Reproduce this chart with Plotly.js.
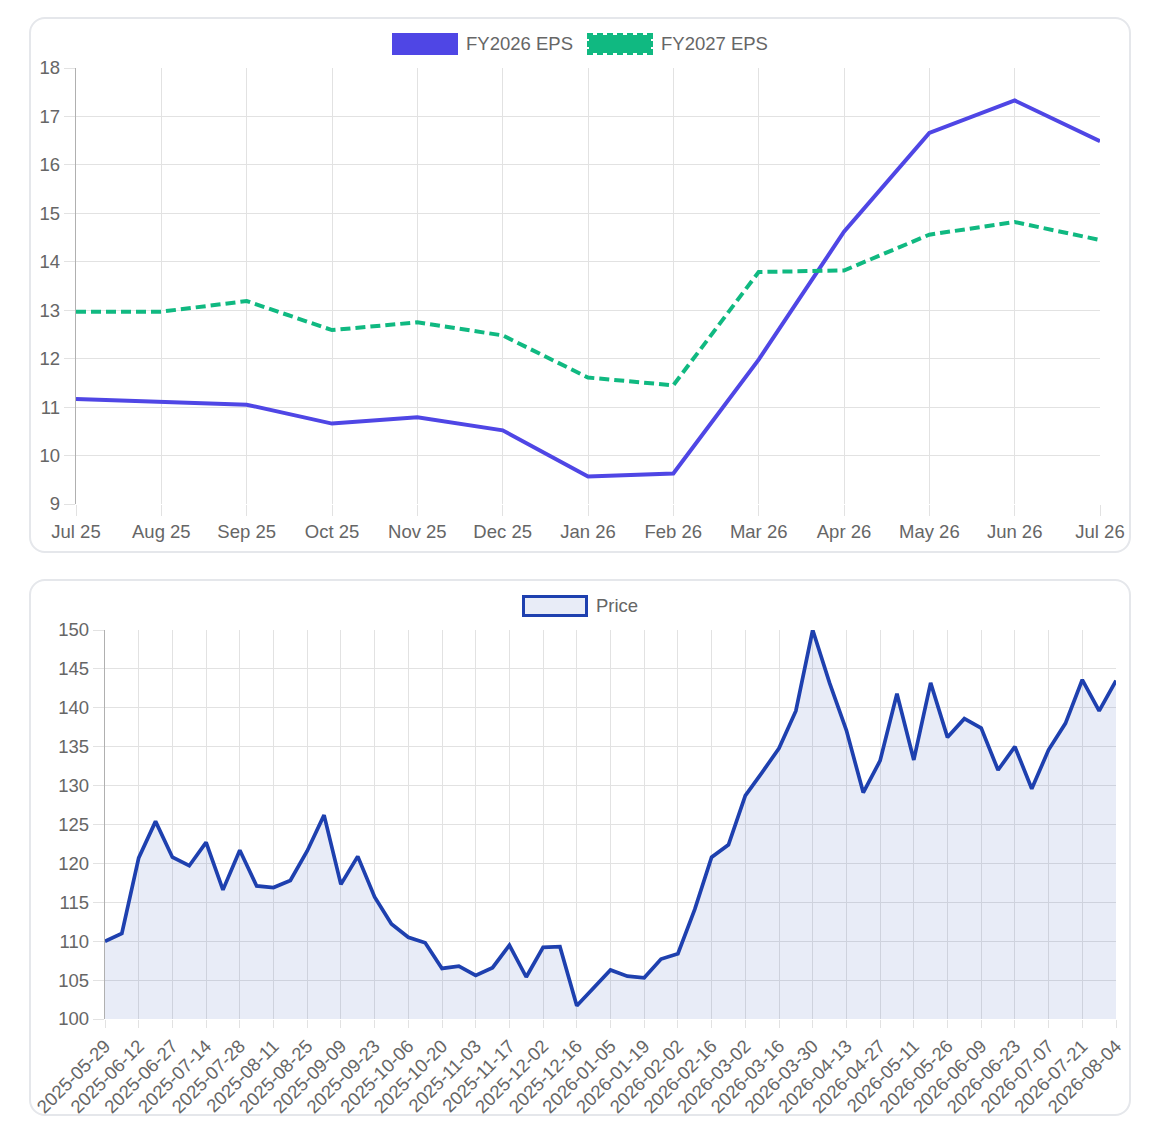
<!DOCTYPE html>
<html>
<head>
<meta charset="utf-8">
<script src="https://cdn.plot.ly/plotly-3.0.1.min.js"></script>
<style>
  html, body { margin: 0; padding: 0; background: #fff; }
  body { width: 1152px; height: 1128px; position: relative; font-family: "Liberation Sans", Arial, sans-serif; }
  .card { position: absolute; left: 29px; width: 1102px; border: 2px solid #e5e7eb; border-radius: 16px; background: #fff; box-sizing: border-box; }
  .plot { position: absolute; left: 0; top: 0; width: 100%; }
  .legend { position: absolute; top: 14px; left: 0; width: 100%; display: flex; justify-content: center; align-items: center; gap: 14px; z-index: 2; font-size: 18.5px; color: #666; }
  .item { display: flex; align-items: center; gap: 8px; }
  .box { width: 66px; height: 22px; box-sizing: border-box; background-clip: padding-box; }
</style>
</head>
<body>
<div class="card" id="card1" style="top:17px;height:536px;">
  <div class="legend" id="legend1"></div>
  <div class="plot" id="eps"></div>
</div>
<div class="card" id="card2" style="top:579px;height:537px;">
  <div class="legend" id="legend2"></div>
  <div class="plot" id="price"></div>
</div>
<script>
// EPS estimates by month
const months = ['Jul 25', 'Aug 25', 'Sep 25', 'Oct 25', 'Nov 25', 'Dec 25', 'Jan 26',
  'Feb 26', 'Mar 26', 'Apr 26', 'May 26', 'Jun 26', 'Jul 26'];
const fy2026 = [11.17, 11.11, 11.05, 10.66, 10.79, 10.52, 9.57, 9.63, 11.98, 14.62, 16.66, 17.33, 16.49];
const fy2027 = [12.97, 12.97, 13.19, 12.59, 12.75, 12.48, 11.61, 11.45, 13.79, 13.82, 14.56, 14.82, 14.45];

// weekly price
const dates = [
  '2025-05-29', '2025-06-05', '2025-06-12', '2025-06-20', '2025-06-27', '2025-07-07',
  '2025-07-14', '2025-07-21', '2025-07-28', '2025-08-04', '2025-08-11', '2025-08-18',
  '2025-08-25', '2025-09-02', '2025-09-09', '2025-09-16', '2025-09-23', '2025-09-30',
  '2025-10-06', '2025-10-13', '2025-10-20', '2025-10-27', '2025-11-03', '2025-11-10',
  '2025-11-17', '2025-11-24', '2025-12-02', '2025-12-09', '2025-12-16', '2025-12-23',
  '2026-01-05', '2026-01-12', '2026-01-19', '2026-01-26', '2026-02-02', '2026-02-09',
  '2026-02-16', '2026-02-23', '2026-03-02', '2026-03-09', '2026-03-16', '2026-03-23',
  '2026-03-30', '2026-04-06', '2026-04-13', '2026-04-20', '2026-04-27', '2026-05-04',
  '2026-05-11', '2026-05-18', '2026-05-26', '2026-06-02', '2026-06-09', '2026-06-16',
  '2026-06-23', '2026-06-30', '2026-07-07', '2026-07-14', '2026-07-21', '2026-07-28',
  '2026-08-04'];
const prices = [
  110.0, 111.0, 120.7, 125.4, 120.8, 119.7, 122.7, 116.6, 121.7, 117.1,
  116.9, 117.8, 121.6, 126.2, 117.3, 120.9, 115.7, 112.2, 110.5, 109.8,
  106.5, 106.8, 105.6, 106.6, 109.5, 105.4, 109.2, 109.3, 101.7, 104.0,
  106.3, 105.5, 105.3, 107.7, 108.4, 114.1, 120.8, 122.4, 128.7, 131.7,
  134.8, 139.6, 150.0, 143.2, 137.1, 129.1, 133.2, 141.8, 133.3, 143.2,
  136.2, 138.6, 137.4, 132.0, 135.0, 129.6, 134.6, 138.0, 143.6, 139.6,
  143.5];

const INDIGO = '#4F46E5', EMERALD = '#10B981', BLUE = '#1E40AF';
const FONT = { family: '"Liberation Sans", Arial, sans-serif', size: 18.5, color: '#666' };
const GRID = '#e2e2e2';

function legend(el, items) {
  el.innerHTML = items.map((it) =>
    `<div class="item"><div class="box" style="background-color:${it.fill};border:${it.border}"></div><span>${it.name}</span></div>`
  ).join('');
}

function axis(extra) {
  return Object.assign({
    showgrid: true, gridcolor: GRID, gridwidth: 1, zeroline: false,
    showline: true, linecolor: '#b0b0b0', linewidth: 1.3,
    ticks: 'outside', ticklen: 11, tickcolor: GRID, tickwidth: 1,
    tickfont: FONT, automargin: false, fixedrange: true,
  }, extra);
}

legend(document.getElementById('legend1'), [
  { name: 'FY2026 EPS', fill: INDIGO, border: `2px solid ${INDIGO}` },
  { name: 'FY2027 EPS', fill: EMERALD, border: `2px dashed ${EMERALD}` },
]);
legend(document.getElementById('legend2'), [
  { name: 'Price', fill: 'rgba(30,64,175,0.1)', border: `3px solid ${BLUE}` },
]);

Plotly.newPlot('eps', [
  { x: months, y: fy2026, type: 'scatter', mode: 'lines', name: 'FY2026 EPS',
    line: { color: INDIGO, width: 4 } },
  { x: months, y: fy2027, type: 'scatter', mode: 'lines', name: 'FY2027 EPS',
    line: { color: EMERALD, width: 4, dash: '10px,5px' } },
], {
  width: 1098, height: 536,
  margin: { l: 45, r: 29, t: 49, b: 51 },
  showlegend: false,
  paper_bgcolor: 'rgba(0,0,0,0)', plot_bgcolor: 'rgba(0,0,0,0)',
  font: FONT,
  xaxis: axis({ type: 'category', range: [0, months.length - 1], showline: false }),
  yaxis: axis({ range: [9, 18], dtick: 1, tick0: 9 }),
}, { displayModeBar: false, staticPlot: true });

const shownDates = dates.filter((d, i) => i % 2 === 0);

// plot div runs a little past the card so the slanted labels are not clipped
Plotly.newPlot('price', [
  { x: dates, y: prices, type: 'scatter', mode: 'lines', name: 'Price',
    fill: 'tozeroy', fillcolor: 'rgba(30,64,175,0.1)',
    line: { color: BLUE, width: 3.7 } },
], {
  width: 1098, height: 560,
  margin: { l: 74, r: 13, t: 49, b: 122 },
  showlegend: false,
  paper_bgcolor: 'rgba(0,0,0,0)', plot_bgcolor: 'rgba(0,0,0,0)',
  font: FONT,
  xaxis: axis({ type: 'category', range: [0, dates.length - 1], showline: false,
    tickmode: 'array', tickvals: shownDates, ticktext: shownDates, tickangle: -45, ticklen: 8 }),
  yaxis: axis({ range: [100, 150], dtick: 5, tick0: 100 }),
}, { displayModeBar: false, staticPlot: true });
</script>
</body>
</html>
